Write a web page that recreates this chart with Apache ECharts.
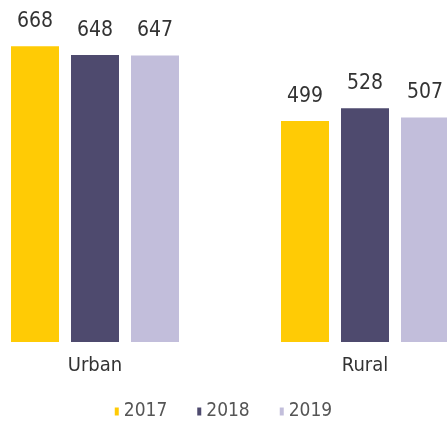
<!DOCTYPE html>
<html>
<head>
<meta charset="utf-8">
<script src="https://cdn.jsdelivr.net/npm/echarts@6/dist/echarts.min.js"></script>
<style>
  html, body { margin: 0; padding: 0; background: #fff; }
  #chart { width: 447px; height: 425px; }
</style>
</head>
<body>
<div id="chart"></div>
<script>
const categories = ['Urban', 'Rural'];
const years = ['2017', '2018', '2019'];
const values2017 = [668, 499];
const values2018 = [648, 528];
const values2019 = [647, 507];
const colors = ['#FFCB05', '#4E4A6E', '#C2BEDB'];

const font = 'DejaVu Sans Condensed';
const chart = echarts.init(document.getElementById('chart'));

const seriesData = [values2017, values2018, values2019];

chart.setOption({
  backgroundColor: '#fff',
  animation: false,
  textStyle: { fontFamily: font },
  legend: {
    data: years,
    bottom: -1,
    left: 'center',
    itemWidth: 4,
    itemHeight: 8,
    itemGap: 30,
    icon: 'rect',
    textStyle: { fontFamily: font, fontSize: 19, color: '#555' },
  },
  // plot runs past both edges so the Rural group is clipped like the original
  grid: { left: -40, right: -53, top: 32, bottom: 83, outerBoundsMode: 'none', containLabel: false },
  xAxis: {
    type: 'category',
    data: categories,
    axisLine: { show: false },
    axisTick: { show: false },
    axisLabel: { fontFamily: font, fontSize: 20, color: '#333', margin: 14 },
  },
  yAxis: {
    type: 'value',
    min: 0,
    max: 700,
    show: false,
    splitLine: { show: false },
  },
  series: years.map((y, i) => ({
    name: y,
    type: 'bar',
    data: seriesData[i],
    barWidth: 48,
    barGap: '25%',
    itemStyle: { color: colors[i] },
    label: {
      show: true,
      position: 'top',
      distance: 14,
      fontFamily: font,
      fontSize: 21,
      color: '#333',
    },
  })),
});
</script>
</body>
</html>
